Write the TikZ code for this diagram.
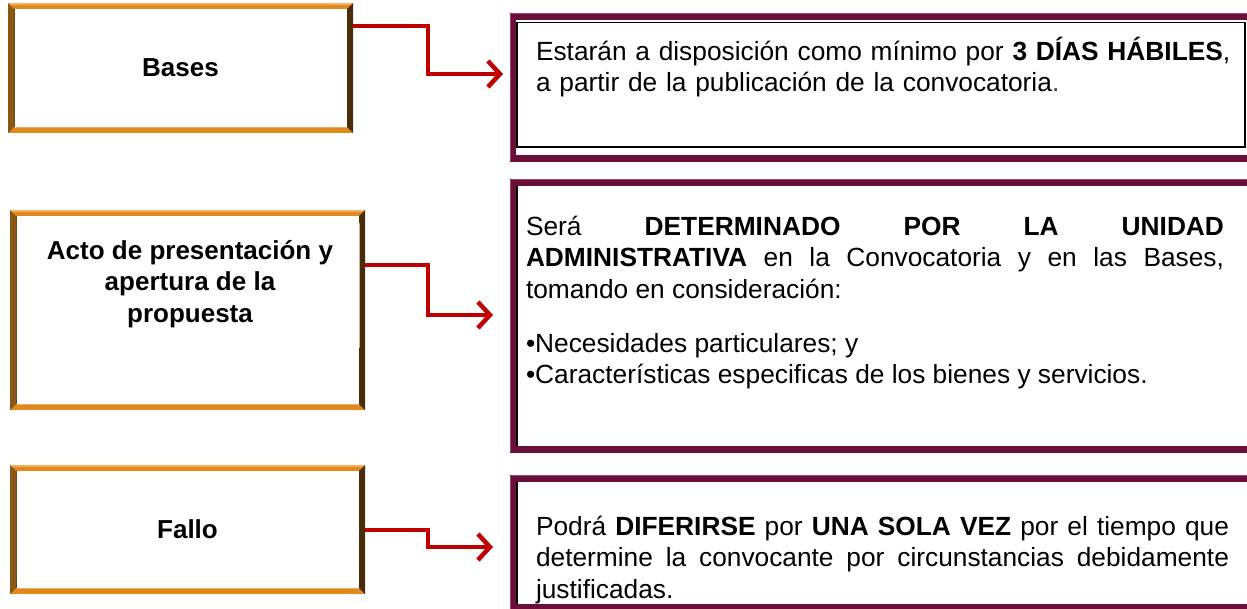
\documentclass[tikz,border=0pt]{standalone}
\usepackage{fontspec}
\setmainfont{Liberation Sans}
\usetikzlibrary{arrows.meta}
\definecolor{arrred}{HTML}{C00000}
\definecolor{orng}{HTML}{E08A1E}
\definecolor{orngl}{HTML}{F2B060}
\definecolor{brwn}{HTML}{8A5716}
\definecolor{dbrwn}{HTML}{4A2C08}
\definecolor{mrn}{HTML}{6A0E3A}
\definecolor{mrnl}{HTML}{9A4A73}
\definecolor{txtblue}{HTML}{1F3A7A}
\hbadness=10000 \hfuzz=50pt
\begin{document}
\begin{tikzpicture}[x=1pt,y=-1pt,
  box/.style 2 args={minimum width=#1pt, minimum height=#2pt, inner sep=0pt, outer sep=0pt, draw=none},
  lbl/.style={inner sep=0pt, outer sep=0pt, align=center, font=\fontsize{26}{31.5}\selectfont\bfseries},
  para/.style={inner sep=0pt, outer sep=0pt, anchor=north west, text width=#1pt, font=\fontsize{26.3}{31.5}\selectfont},
  arr/.style={draw=arrred, line width=4.5pt, -{Straight Barb[length=12pt,width=26pt]}}]
\useasboundingbox (0,0) rectangle (1247,608);
\fill[white] (0,0) rectangle (1247,608);
% left boxes
\node[box={345}{130}] (b1) at (180.5,68) {};
\node[box={355}{200}] (b2) at (187.5,310) {};
\node[box={355}{129}] (b3) at (187.5,529.5) {};
% right boxes
\node[box={745}{149}] (r1) at (882.5,87.5) {};
\node[box={745}{274}] (r2) at (882.5,316) {};
\node[box={745}{136}] (r3) at (882.5,543) {};
% bevelled orange frames
\foreach \n in {b1,b2,b3}{
  \fill[orng] (\n.north west) rectangle (\n.south east);
  \fill[orngl] (\n.north west) rectangle ([shift={(0,1.5)}]\n.north east);
  \fill[brwn] (\n.north west) -- ([shift={(6,6)}]\n.north west) -- ([shift={(6,-6)}]\n.south west) -- (\n.south west) -- cycle;
  \fill[dbrwn] (\n.north east) -- ([shift={(-6,6)}]\n.north east) -- ([shift={(-6,-6)}]\n.south east) -- (\n.south east) -- cycle;
  \fill[white] ([shift={(6,6)}]\n.north west) rectangle ([shift={(-6,-6)}]\n.south east);
  \draw[brwn!80!black, line width=0.8pt] ([shift={(6,6)}]\n.north west) -- ([shift={(6,-6)}]\n.south west);
  \draw[orng!70!white, line width=0.8pt] ([shift={(6,-6)}]\n.south west) -- ([shift={(-6,-6)}]\n.south east);
}
\draw[brwn!45!white, line width=1pt] (359,223) -- (359,348);
% maroon frames
\foreach \n in {r1,r2,r3}{
  \fill[mrn] (\n.north west) rectangle (\n.south east);
  \draw[mrnl, line width=1.2pt] ([shift={(0.6,0.6)}]\n.north west) -- ([shift={(0.6,-0.6)}]\n.south west);
  \draw[mrnl, line width=1.2pt] ([shift={(0.6,0.6)}]\n.north west) -- ([shift={(0,0.6)}]\n.north east);
  \fill[white] ([shift={(6,7)}]\n.north west) rectangle ([shift={(-6,-7)}]\n.south east);
}
\draw[black, line width=1.6pt] (517,22.5) rectangle (1245,147);
\draw[black, line width=1.4pt] (516.8,186) -- (516.8,446);
\draw[black, line width=1.4pt] (516.8,482) -- (516.8,604);
% texts
\node[lbl] (t1) at (b1.center) {Bases};
\node[lbl, anchor=north] (t2) at (190,234) {\rule{0pt}{25pt}Acto de presentación y\\apertura de la\\propuesta};
\node[lbl] (t3) at (b3.center) {Fallo};
\node[para=700, align=left] (p1) at (536,35) {\rule{0pt}{25pt}Estarán a disposición como mínimo por \textbf{3 DÍAS HÁBILES},\\a partir de la publicación de la convocatoria{\color{txtblue}.}};
\node[para=698, align=justify] (p2) at (526,210) {\rule{0pt}{25pt}Será \textbf{DETERMINADO POR LA UNIDAD}\linebreak \textbf{ADMINISTRATIVA} en la Convocatoria y en las Bases,\linebreak tomando en consideración:\par\vspace{22.5pt}
\raggedright •Necesidades particulares; y\\•Características especificas de los bienes y servicios.};
\node[para=693, align=justify] (p3) at (536,510) {\rule{0pt}{25pt}Podrá \textbf{DIFERIRSE} por \textbf{UNA SOLA VEZ} por el tiempo que\linebreak determine la convocante por circunstancias debidamente\linebreak justificadas.};
% connectors
\draw[arr] (b1.east |- 0,26) -- (428,26) |- ([xshift=-7pt]r1.west |- 0,74);
\draw[arr] (b2.east |- 0,265) -- (428,265) |- ([xshift=-17pt]r2.west |- 0,315);
\draw[arr] (b3.east |- 0,530) -- (428,530) |- ([xshift=-17pt]r3.west |- 0,547);
\end{tikzpicture}
\end{document}
